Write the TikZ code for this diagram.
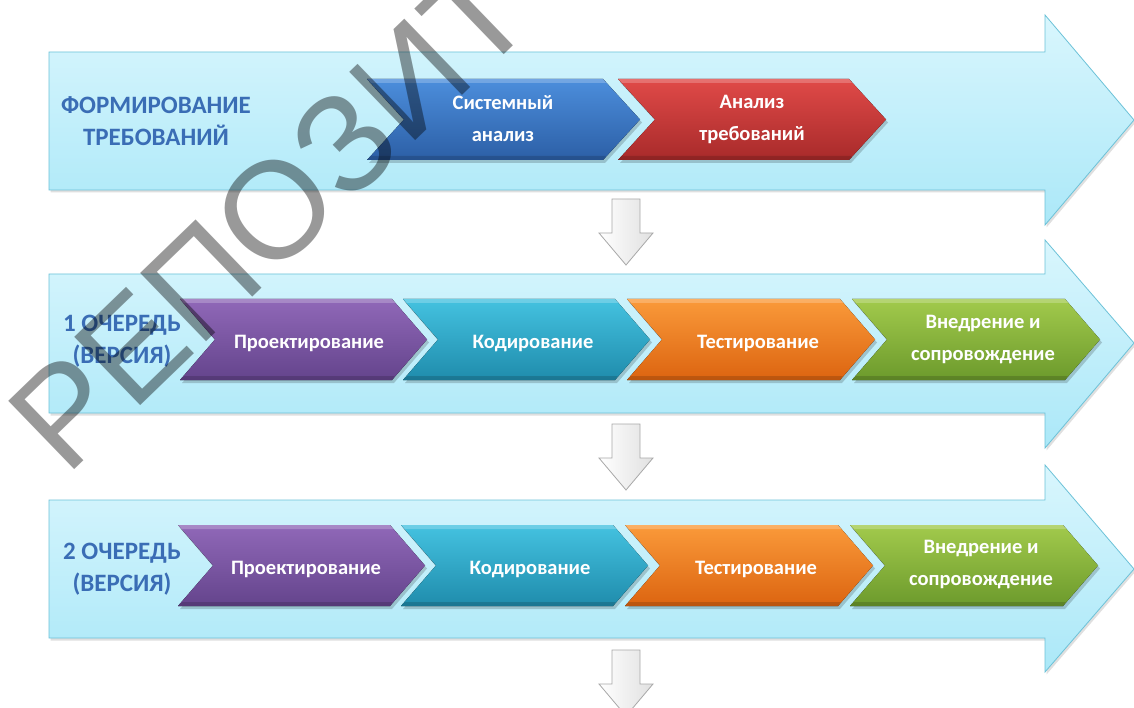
\documentclass[tikz,border=0pt]{standalone}
\usepackage{fontspec}
\setmainfont{Carlito}
\newfontfamily\wmfont{Liberation Sans}
\usetikzlibrary{shadows}
\definecolor{arrowtop}{HTML}{D9F6FD}
\definecolor{arrowbot}{HTML}{ABE8F8}
\definecolor{arrowline}{HTML}{6CC2D8}
\definecolor{bluetop}{HTML}{4C8EDC}
\definecolor{bluebot}{HTML}{2C5FA6}
\definecolor{redtop}{HTML}{E04A48}
\definecolor{redbot}{HTML}{A82A2A}
\definecolor{purptop}{HTML}{9068B8}
\definecolor{purpbot}{HTML}{64448C}
\definecolor{tealtop}{HTML}{44C2E0}
\definecolor{tealbot}{HTML}{1F8CAC}
\definecolor{orantop}{HTML}{FA9A3A}
\definecolor{oranbot}{HTML}{DC6410}
\definecolor{greetop}{HTML}{A2CA4C}
\definecolor{greebot}{HTML}{6C9A2C}
\definecolor{labelblue}{HTML}{3A6DB5}
\definecolor{downline}{HTML}{A8A8A8}
\tikzset{
  bigarrow/.style={draw=arrowline, line width=0.8pt, top color=arrowtop, bottom color=arrowbot,
    drop shadow={shadow xshift=1.5pt, shadow yshift=-2.5pt, opacity=0.25}},
  chevtext/.style={text=white, align=center, font=\fontsize{20.5}{32}\selectfont\bfseries},
  chevone/.style={chevtext, anchor=base},
  rowlabel/.style={text=labelblue, align=center, font=\fontsize{25}{32}\selectfont\bfseries},
  downarrow/.style={draw=downline, line width=0.8pt, left color=white, right color=black!12},
  wm/.style={text=black, text opacity=0.4, font=\wmfont\fontsize{138}{138}\selectfont}
}
% #1 x, #2 top, #3 width to tip, #4 height, #5 point depth, #6 colour prefix
\newcommand\chev[6]{%
  \fill[black, opacity=0.18] (#1+2,#2+3) -- (#1+#3-#5+2,#2+3) -- (#1+#3+2,#2+#4/2+3) -- (#1+#3-#5+2,#2+#4+3) -- (#1+2,#2+#4+3) -- (#1+#5+2,#2+#4/2+3) -- cycle;
  \fill[top color=#6top, bottom color=#6bot] (#1,#2) -- (#1+#3-#5,#2) -- (#1+#3,#2+#4/2) -- (#1+#3-#5,#2+#4) -- (#1,#2+#4) -- (#1+#5,#2+#4/2) -- cycle;
  \fill[white, opacity=0.22] (#1,#2) -- (#1+#3-#5,#2) -- (#1+#3-#5+3,#2+4) -- (#1+4,#2+4) -- cycle;
  \fill[black, opacity=0.15] (#1,#2+#4) -- (#1+#3-#5,#2+#4) -- (#1+#3-#5+3,#2+#4-4) -- (#1+4,#2+#4-4) -- cycle;
}
\begin{document}
\begin{tikzpicture}[x=1pt,y=-1pt]
\useasboundingbox (0,0) rectangle (1134,708);
\fill[white] (0,0) rectangle (1134,708);
\begin{scope}
\clip (0,0) rectangle (1134,708);
% big arrows
\draw[bigarrow] (49,52) -- (1045,52) -- (1045,15) -- (1134,120) -- (1045,225) -- (1045,190) -- (49,190) -- cycle;
\draw[bigarrow] (49,274) -- (1045,274) -- (1045,240) -- (1134,343) -- (1045,448) -- (1045,413) -- (49,413) -- cycle;
\draw[bigarrow] (49,500) -- (1045,500) -- (1045,465) -- (1134,569) -- (1045,672) -- (1045,638) -- (49,638) -- cycle;
% down arrows
\draw[downarrow] (612,199) -- (640,199) -- (640,233) -- (653,233) -- (626,265) -- (599,233) -- (612,233) -- cycle;
\draw[downarrow] (612,424) -- (640,424) -- (640,458) -- (653,458) -- (626,490) -- (599,458) -- (612,458) -- cycle;
\draw[downarrow] (612,650) -- (640,650) -- (640,684) -- (653,684) -- (626,716) -- (599,684) -- (612,684) -- cycle;
% row 1 chevrons
\chev{367}{79}{273}{81}{37}{blue}
\chev{618}{79}{268}{81}{37}{red}
% row 2 chevrons
\chev{180}{299}{247}{81}{35}{purp}
\chev{403}{299}{247}{81}{35}{teal}
\chev{627}{299}{248}{81}{35}{oran}
\chev{852}{299}{248}{81}{35}{gree}
% row 3 chevrons
\chev{178}{525}{247}{81}{35}{purp}
\chev{401}{525}{247}{81}{35}{teal}
\chev{625}{525}{248}{81}{35}{oran}
\chev{850}{525}{248}{81}{35}{gree}
% labels
\node[rowlabel] (l1) at (156,121) {ФОРМИРОВАНИЕ\\ТРЕБОВАНИЙ};
\node[rowlabel] (l2) at (122,341) {1 ОЧЕРЕДЬ\\(ВЕРСИЯ)};
\node[rowlabel] (l3) at (122,569) {2 ОЧЕРЕДЬ\\(ВЕРСИЯ)};
\node[chevtext] (a1) at (503,119) {Системный\\анализ};
\node[chevtext] (a2) at (752,119) {Анализ\\требований};
\node[chevone] (b1) at (309,348) {Проектирование};
\node[chevone] (b2) at (533,348) {Кодирование};
\node[chevone] (b3) at (758,348) {Тестирование};
\node[chevtext] (b4) at (983,340) {Внедрение и\\сопровождение};
\node[chevone] (c1) at (306,574) {Проектирование};
\node[chevone] (c2) at (530,574) {Кодирование};
\node[chevone] (c3) at (756,574) {Тестирование};
\node[chevtext] (c4) at (981,565) {Внедрение и\\сопровождение};
% watermark
\node[wm, rotate=44, anchor=base west, inner sep=0pt] (wm) at (66,478) {РЕПОЗИТ};
\end{scope}
\end{tikzpicture}
\end{document}
